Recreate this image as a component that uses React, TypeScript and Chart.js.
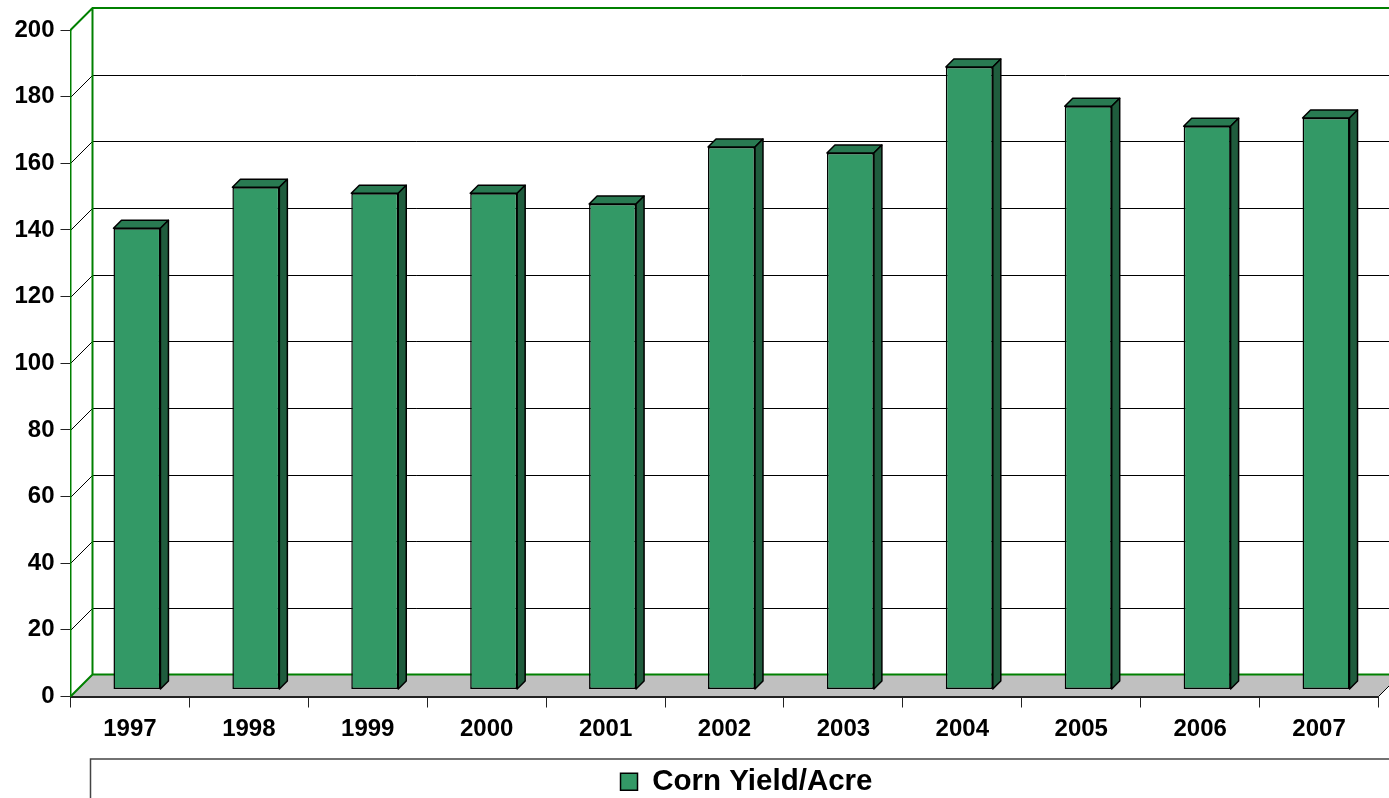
import React, { useEffect, useRef } from "react";
import { Chart, registerables } from "chart.js";

Chart.register(...registerables);

const years = ["1997", "1998", "1999", "2000", "2001", "2002", "2003", "2004", "2005", "2006", "2007"];
const cornYield = [138.4, 150.7, 148.9, 148.9, 145.7, 162.8, 161, 186.8, 175, 169, 171.5];
const seriesName = "Corn Yield/Acre";

const FONT = "'Liberation Sans', Arial, sans-serif";
const WALL = 22;
const BAR_SHIFT = 7;
const BAR_DEPTH = 8;
const GREEN = "#008000";

const scene = {
  id: "scene",
  afterLayout(chart: any) {
    const lg = chart.legend;
    if (!lg) return;
    const dx = 746.5 - (lg.left + lg.right) / 2;
    lg.left += dx;
    lg.right += dx;
    const dy = 765 - lg.top;
    lg.top += dy;
    lg.bottom += dy;
  },
  beforeDraw(chart: any) {
    const { ctx, chartArea: a, scales, width } = chart;
    const y = scales.y;
    const far = width + 40;
    ctx.save();
    ctx.fillStyle = "#ffffff";
    ctx.fillRect(0, 0, width, chart.height);
    // floor
    const y0 = y.getPixelForValue(0);
    ctx.fillStyle = "#c0c0c0";
    ctx.beginPath();
    ctx.moveTo(a.left, y0);
    ctx.lineTo(a.left + WALL, y0 - WALL);
    ctx.lineTo(a.right + WALL, y0 - WALL);
    ctx.lineTo(a.right, y0);
    ctx.closePath();
    ctx.fill();
    // wall grid lines
    ctx.strokeStyle = "#000000";
    ctx.lineWidth = 1;
    y.ticks.forEach((t: any) => {
      if (t.value === 0 || t.value === y.max) return;
      const p = Math.round(y.getPixelForValue(t.value)) + 0.5;
      ctx.beginPath();
      ctx.moveTo(a.left, p);
      ctx.lineTo(a.left + WALL, p - WALL);
      ctx.lineTo(far, p - WALL);
      ctx.stroke();
    });
    // green frame
    const yt = y.getPixelForValue(y.max);
    ctx.strokeStyle = GREEN;
    ctx.lineWidth = 2;
    ctx.beginPath();
    ctx.moveTo(a.left, yt);
    ctx.lineTo(a.left + WALL, yt - WALL);
    ctx.lineTo(far, yt - WALL);
    ctx.moveTo(a.left + WALL, yt - WALL);
    ctx.lineTo(a.left + WALL, y0 - WALL);
    ctx.lineTo(far, y0 - WALL);
    ctx.moveTo(a.left, y0);
    ctx.lineTo(a.left + WALL, y0 - WALL);
    ctx.stroke();
    // right floor edge
    ctx.strokeStyle = "#000000";
    ctx.lineWidth = 1;
    ctx.beginPath();
    ctx.moveTo(a.right, y0);
    ctx.lineTo(a.right + WALL, y0 - WALL);
    ctx.stroke();
    // legend frame
    ctx.strokeStyle = "#444444";
    ctx.lineWidth = 1.5;
    ctx.beginPath();
    ctx.moveTo(90.5, chart.height);
    ctx.lineTo(90.5, 759);
    ctx.lineTo(far, 759);
    ctx.stroke();
    ctx.restore();
  },
  beforeDatasetsDraw(chart: any) {
    const { ctx } = chart;
    ctx.save();
    ctx.translate(BAR_SHIFT, -BAR_SHIFT);
    const d = BAR_DEPTH;
    ctx.lineWidth = 1.5;
    ctx.strokeStyle = "#000000";
    ctx.lineJoin = "round";
    chart.getDatasetMeta(0).data.forEach((el: any) => {
      const { x, y, base, width } = el.getProps(["x", "y", "base", "width"], true);
      const l = x - width / 2;
      const r = x + width / 2;
      ctx.fillStyle = "#297a52";
      ctx.beginPath();
      ctx.moveTo(l, y);
      ctx.lineTo(l + d, y - d);
      ctx.lineTo(r + d, y - d);
      ctx.lineTo(r, y);
      ctx.closePath();
      ctx.fill();
      ctx.stroke();
      ctx.fillStyle = "#1f5c3d";
      ctx.beginPath();
      ctx.moveTo(r, y);
      ctx.lineTo(r + d, y - d);
      ctx.lineTo(r + d, base - d);
      ctx.lineTo(r, base);
      ctx.closePath();
      ctx.fill();
      ctx.stroke();
    });
  },
  afterDatasetsDraw(chart: any) {
    chart.ctx.restore();
  },
};

export default function App() {
  const ref = useRef<HTMLCanvasElement>(null);
  useEffect(() => {
    const chart = new Chart(ref.current as HTMLCanvasElement, {
      type: "bar",
      data: {
        labels: years,
        datasets: [
          {
            label: seriesName,
            data: cornYield,
            backgroundColor: "#339966",
            borderColor: "#000000",
            borderWidth: 1.5,
            borderSkipped: false,
            barPercentage: 0.395,
            categoryPercentage: 1,
            clip: false,
          } as any,
        ],
      },
      plugins: [scene],
      options: {
        responsive: false,
        animation: false,
        layout: { padding: { left: 0, right: 10.5, top: 30, bottom: 0 } },
        plugins: {
          tooltip: { enabled: false },
          legend: {
            position: "bottom",
            labels: {
              boxWidth: 17,
              boxHeight: 17,
              padding: 2,
              color: "#000000",
              font: { family: FONT, size: 29.5, weight: "bold" },
            },
          },
        },
        scales: {
          x: {
            offset: true,
            grid: { drawOnChartArea: false, drawTicks: true, tickLength: 11, color: "#222222", lineWidth: 1, offset: true },
            border: { color: "#222222", width: 2 },
            ticks: {
              color: "#000000",
              padding: 7,
              maxRotation: 0,
              autoSkip: false,
              font: { family: FONT, size: 24, weight: "bold" },
            },
            afterFit: (s: any) => {
              s.height = 60;
            },
          },
          y: {
            min: 0,
            max: 200,
            grid: { drawOnChartArea: false, drawTicks: true, tickLength: 10, color: "#222222", lineWidth: 1 },
            border: { color: GREEN, width: 1.5 },
            ticks: {
              stepSize: 20,
              color: "#000000",
              padding: 6,
              font: { family: FONT, size: 24, weight: "bold" },
            },
            afterFit: (s: any) => {
              s.width = 70.5;
            },
          },
        },
      },
    } as any);
    return () => chart.destroy();
  }, []);
  return (
    <canvas
      ref={ref}
      width={1389}
      height={798}
      style={{ position: "absolute", left: 0, top: 0, display: "block" }}
    />
  );
}
